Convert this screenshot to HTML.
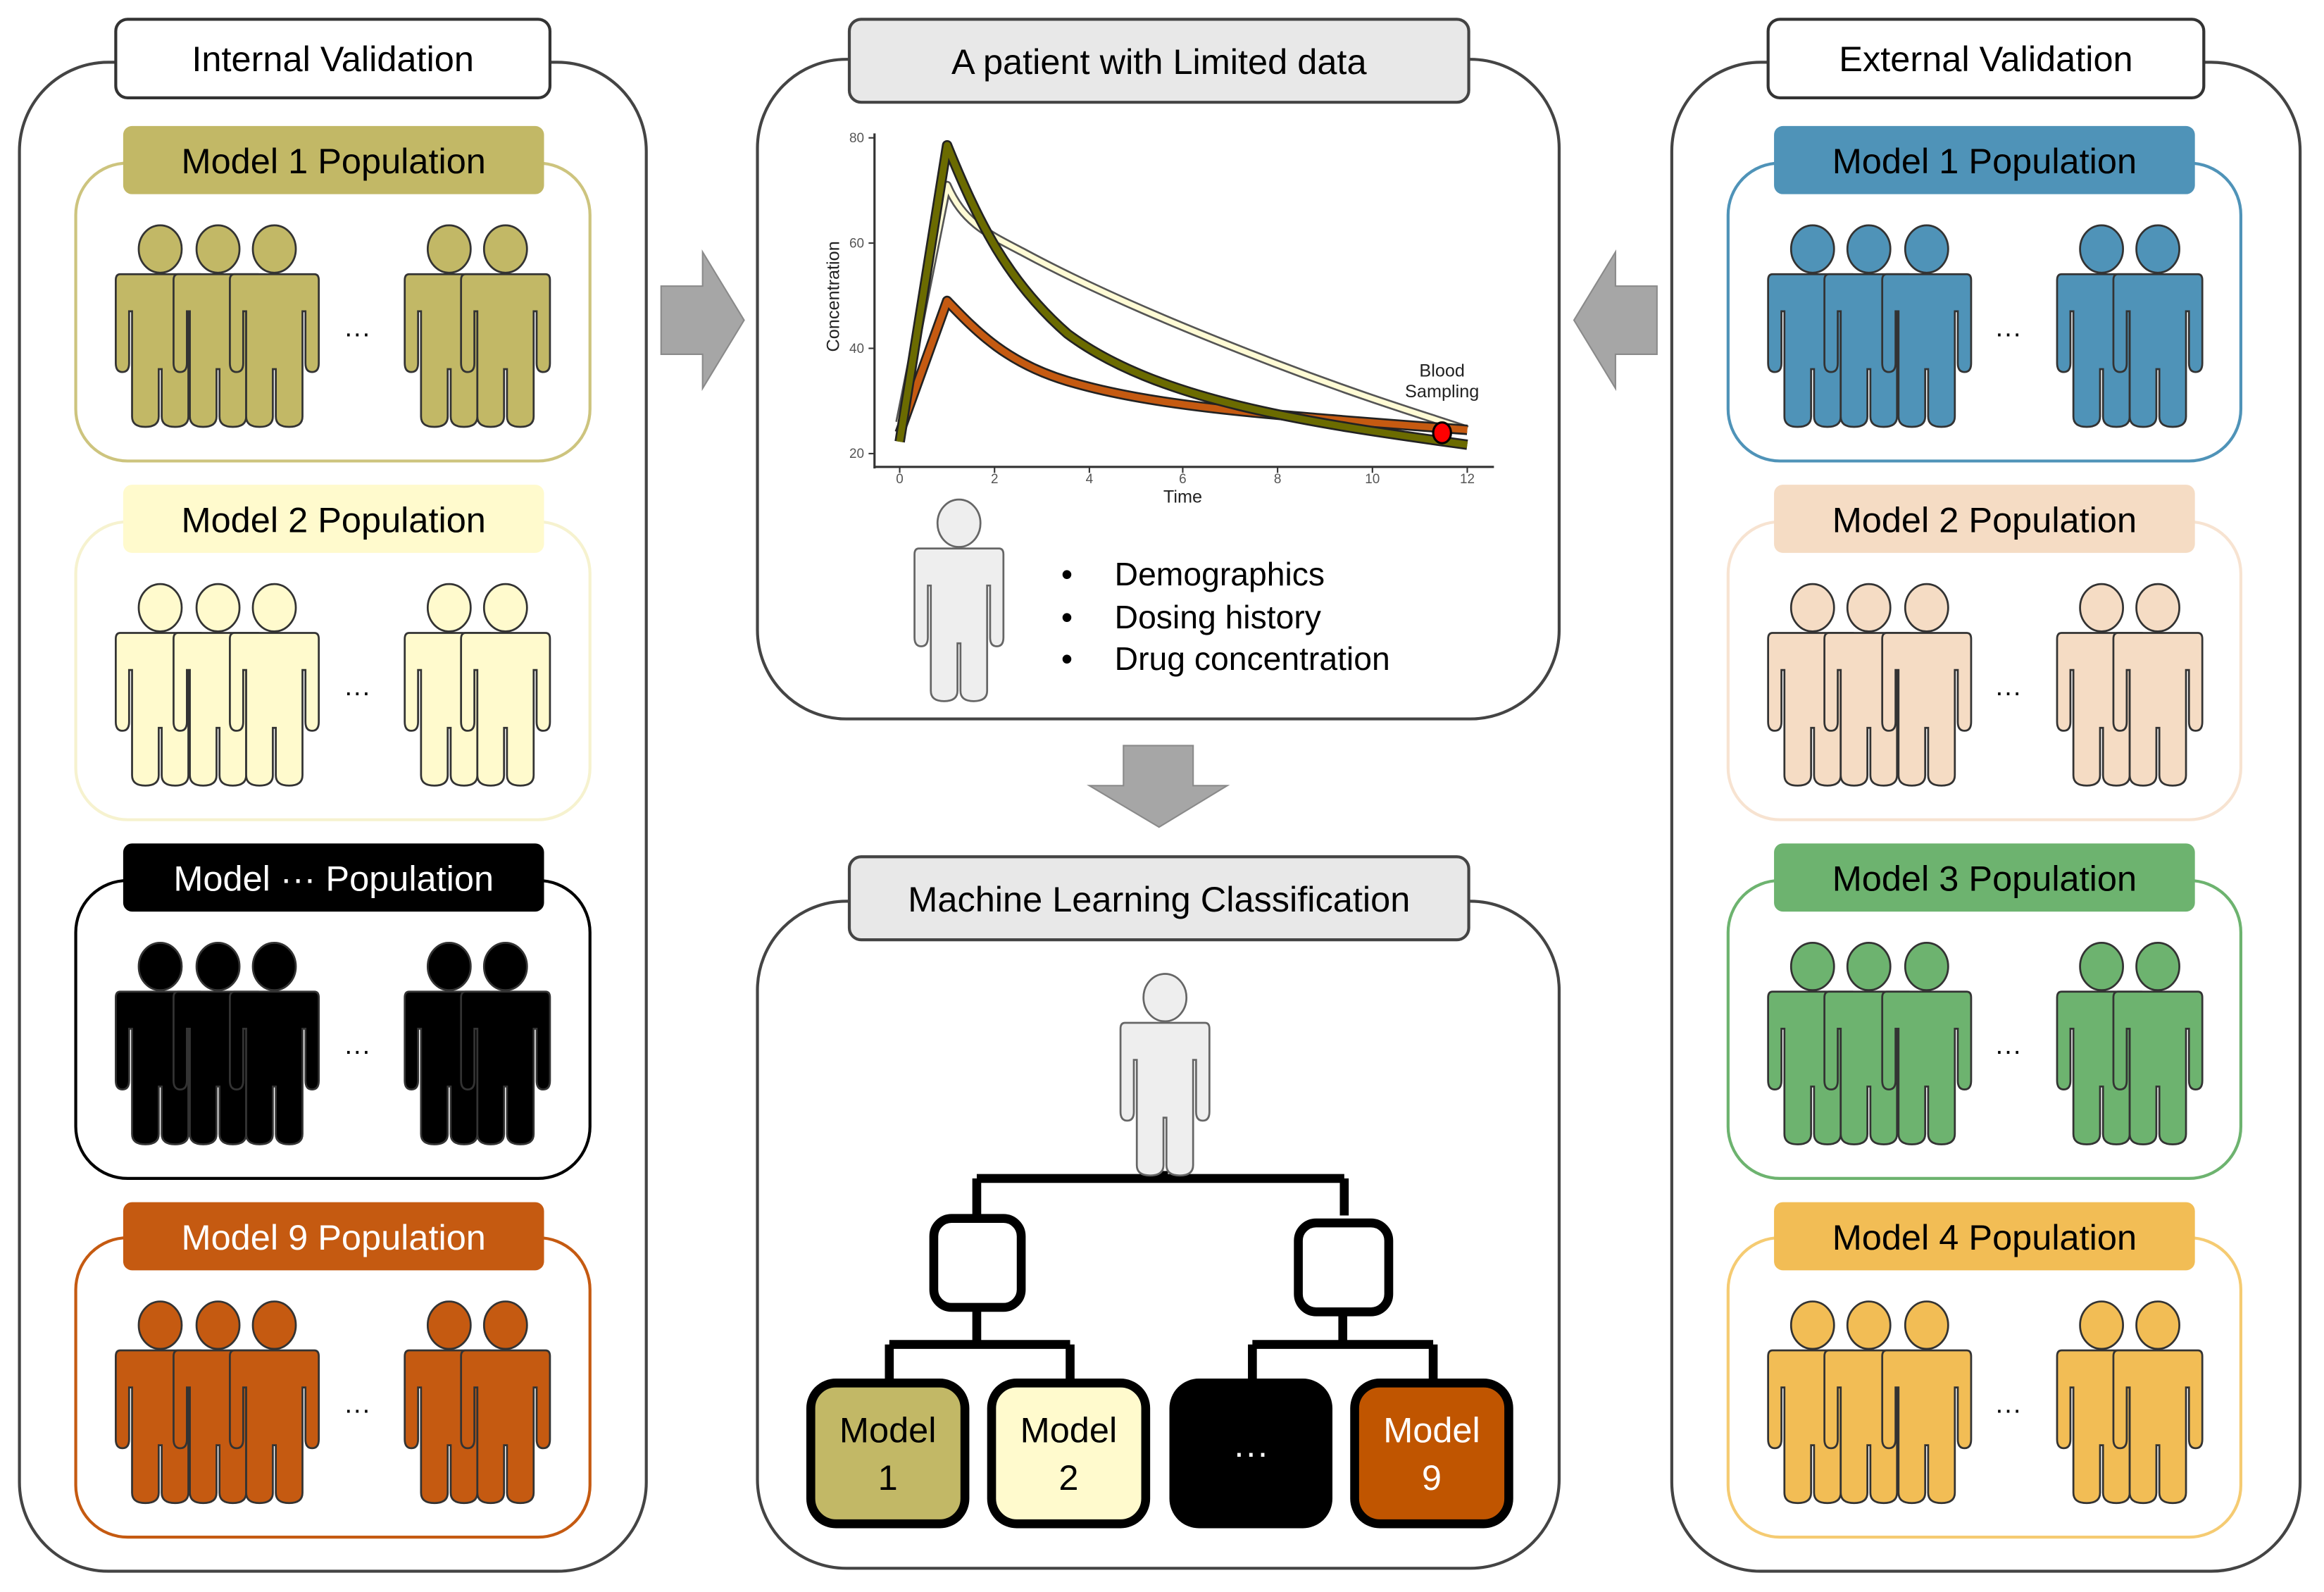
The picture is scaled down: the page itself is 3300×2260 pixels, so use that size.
<!DOCTYPE html>
<html><head><meta charset="utf-8"><style>
html,body{margin:0;padding:0;background:#fff}
svg{display:block}
text{font-family:"Liberation Sans",Arial,sans-serif}
</style></head><body>
<svg width="3300" height="2260" viewBox="0 0 1568 1074" xmlns="http://www.w3.org/2000/svg">
<defs>
<symbol id="p" viewBox="0 0 60 137" width="60" height="137" overflow="visible">
<path d="M3,33 H57 Q60,33 60,37 V93 Q60,99 55.5,99 Q51,99 51,93 V58 H49 V129 Q49,136 40,136 Q31,136 31,129 V97 H29 V129 Q29,136 20,136 Q11,136 11,129 V58 H9 V93 Q9,99 4.5,99 Q0,99 0,93 V37 Q0,33 3,33 Z"/>
<ellipse cx="30" cy="16" rx="14.5" ry="16"/>
</symbol>
</defs>

<!-- Outer panels -->
<rect x="13" y="42" width="423" height="1018" rx="60" fill="#fff" stroke="#444" stroke-width="2"/>
<rect x="1128" y="42" width="424" height="1018" rx="60" fill="#fff" stroke="#444" stroke-width="2"/>
<rect x="511" y="40" width="541" height="445" rx="60" fill="#fff" stroke="#444" stroke-width="2"/>
<rect x="511" y="608" width="541" height="450" rx="60" fill="#fff" stroke="#444" stroke-width="2"/>

<!-- Headers -->
<rect x="78" y="13" width="293" height="53" rx="8" fill="#fff" stroke="#333" stroke-width="2"/>
<text x="224.5" y="48" font-size="24" text-anchor="middle">Internal Validation</text>
<rect x="1193" y="13" width="294" height="53" rx="8" fill="#fff" stroke="#333" stroke-width="2"/>
<text x="1340" y="48" font-size="24" text-anchor="middle">External Validation</text>
<rect x="573" y="13" width="418" height="56" rx="8" fill="#e8e8e8" stroke="#444" stroke-width="2"/>
<text x="782" y="50" font-size="24" text-anchor="middle">A patient with Limited data</text>
<rect x="573" y="578" width="418" height="56" rx="8" fill="#e8e8e8" stroke="#444" stroke-width="2"/>
<text x="782" y="615" font-size="24" text-anchor="middle">Machine Learning Classification</text>

<!-- Left column -->
<g>
<rect x="51" y="110" width="347" height="201" rx="35" fill="#fff" stroke="#cdc47e" stroke-width="2"/>
<rect x="83" y="85" width="284" height="46" rx="6" fill="#c2b866"/>
<text x="225" y="117" font-size="24" text-anchor="middle">Model 1 Population</text>
<g fill="#c2b866" stroke="#333" stroke-width="1.3">
<use href="#p" x="78" y="152"/><use href="#p" x="117" y="152"/><use href="#p" x="155" y="152"/><use href="#p" x="273" y="152"/><use href="#p" x="311" y="152"/></g>
<text x="241" y="231" font-size="18" text-anchor="middle">···</text>

<rect x="51" y="352" width="347" height="201" rx="35" fill="#fff" stroke="#f6f2cf" stroke-width="2"/>
<rect x="83" y="327" width="284" height="46" rx="6" fill="#fffacd"/>
<text x="225" y="359" font-size="24" text-anchor="middle">Model 2 Population</text>
<g fill="#fffacd" stroke="#333" stroke-width="1.3">
<use href="#p" x="78" y="394"/><use href="#p" x="117" y="394"/><use href="#p" x="155" y="394"/><use href="#p" x="273" y="394"/><use href="#p" x="311" y="394"/></g>
<text x="241" y="473" font-size="18" text-anchor="middle">···</text>

<rect x="51" y="594" width="347" height="201" rx="35" fill="#fff" stroke="#000" stroke-width="2"/>
<rect x="83" y="569" width="284" height="46" rx="6" fill="#000"/>
<text x="225" y="601" font-size="24" text-anchor="middle" fill="#fff">Model ··· Population</text>
<g fill="#000" stroke="#333" stroke-width="1.3">
<use href="#p" x="78" y="636"/><use href="#p" x="117" y="636"/><use href="#p" x="155" y="636"/><use href="#p" x="273" y="636"/><use href="#p" x="311" y="636"/></g>
<text x="241" y="715" font-size="18" text-anchor="middle">···</text>

<rect x="51" y="835" width="347" height="202" rx="35" fill="#fff" stroke="#c55a11" stroke-width="2"/>
<rect x="83" y="811" width="284" height="46" rx="6" fill="#c55a11"/>
<text x="225" y="843" font-size="24" text-anchor="middle" fill="#fff">Model 9 Population</text>
<g fill="#c55a11" stroke="#333" stroke-width="1.3">
<use href="#p" x="78" y="878"/><use href="#p" x="117" y="878"/><use href="#p" x="155" y="878"/><use href="#p" x="273" y="878"/><use href="#p" x="311" y="878"/></g>
<text x="241" y="957" font-size="18" text-anchor="middle">···</text>
</g>

<!-- Right column -->
<g>
<rect x="1166" y="110" width="346" height="201" rx="35" fill="#fff" stroke="#4f93b8" stroke-width="2"/>
<rect x="1197" y="85" width="284" height="46" rx="6" fill="#4f93b8"/>
<text x="1339" y="117" font-size="24" text-anchor="middle">Model 1 Population</text>
<g fill="#4f93b8" stroke="#333" stroke-width="1.3">
<use href="#p" x="1193" y="152"/><use href="#p" x="1231" y="152"/><use href="#p" x="1270" y="152"/><use href="#p" x="1388" y="152"/><use href="#p" x="1426" y="152"/></g>
<text x="1355" y="231" font-size="18" text-anchor="middle">···</text>

<rect x="1166" y="352" width="346" height="201" rx="35" fill="#fff" stroke="#f7e3d1" stroke-width="2"/>
<rect x="1197" y="327" width="284" height="46" rx="6" fill="#f5dcc4"/>
<text x="1339" y="359" font-size="24" text-anchor="middle">Model 2 Population</text>
<g fill="#f5dcc4" stroke="#333" stroke-width="1.3">
<use href="#p" x="1193" y="394"/><use href="#p" x="1231" y="394"/><use href="#p" x="1270" y="394"/><use href="#p" x="1388" y="394"/><use href="#p" x="1426" y="394"/></g>
<text x="1355" y="473" font-size="18" text-anchor="middle">···</text>

<rect x="1166" y="594" width="346" height="201" rx="35" fill="#fff" stroke="#6db36f" stroke-width="2"/>
<rect x="1197" y="569" width="284" height="46" rx="6" fill="#6db36f"/>
<text x="1339" y="601" font-size="24" text-anchor="middle">Model 3 Population</text>
<g fill="#6db36f" stroke="#333" stroke-width="1.3">
<use href="#p" x="1193" y="636"/><use href="#p" x="1231" y="636"/><use href="#p" x="1270" y="636"/><use href="#p" x="1388" y="636"/><use href="#p" x="1426" y="636"/></g>
<text x="1355" y="715" font-size="18" text-anchor="middle">···</text>

<rect x="1166" y="835" width="346" height="202" rx="35" fill="#fff" stroke="#f5cb72" stroke-width="2"/>
<rect x="1197" y="811" width="284" height="46" rx="6" fill="#f2bd55"/>
<text x="1339" y="843" font-size="24" text-anchor="middle">Model 4 Population</text>
<g fill="#f2bd55" stroke="#333" stroke-width="1.3">
<use href="#p" x="1193" y="878"/><use href="#p" x="1231" y="878"/><use href="#p" x="1270" y="878"/><use href="#p" x="1388" y="878"/><use href="#p" x="1426" y="878"/></g>
<text x="1355" y="957" font-size="18" text-anchor="middle">···</text>
</g>

<!-- Arrows -->
<path d="M446,193 H474 V170 L502,216 L474,262 V239 H446 Z" fill="#a6a6a6" stroke="#8a8a8a" stroke-width="1"/>
<path d="M1118,193 H1090 V170 L1062,216 L1090,262 V239 H1118 Z" fill="#a6a6a6" stroke="#8a8a8a" stroke-width="1"/>
<path d="M758,503 H805 V530 H828 L782,558 L735,530 H758 Z" fill="#a6a6a6" stroke="#8a8a8a" stroke-width="1"/>

<!-- Chart -->
<g>
<line x1="590" y1="90" x2="590" y2="316" stroke="#333" stroke-width="1.5"/>
<line x1="590" y1="315" x2="1008" y2="315" stroke="#333" stroke-width="1.5"/>
<g stroke="#333" stroke-width="1">
<line x1="586" y1="93" x2="590" y2="93"/><line x1="586" y1="164" x2="590" y2="164"/><line x1="586" y1="235" x2="590" y2="235"/><line x1="586" y1="306" x2="590" y2="306"/>
<line x1="607" y1="315" x2="607" y2="319"/><line x1="671" y1="315" x2="671" y2="319"/><line x1="735" y1="315" x2="735" y2="319"/><line x1="798" y1="315" x2="798" y2="319"/><line x1="862" y1="315" x2="862" y2="319"/><line x1="926" y1="315" x2="926" y2="319"/><line x1="990" y1="315" x2="990" y2="319"/>
</g>
<g font-size="9" fill="#555" text-anchor="end">
<text x="583" y="96">80</text><text x="583" y="167">60</text><text x="583" y="238">40</text><text x="583" y="309">20</text></g>
<g font-size="9" fill="#555" text-anchor="middle">
<text x="607" y="326">0</text><text x="671" y="326">2</text><text x="735" y="326">4</text><text x="798" y="326">6</text><text x="862" y="326">8</text><text x="926" y="326">10</text><text x="990" y="326">12</text></g>
<text x="798" y="339" font-size="12" text-anchor="middle" fill="#222">Time</text>
<text x="0" y="0" font-size="12" text-anchor="middle" fill="#222" transform="translate(566,200) rotate(-90)">Concentration</text>
<text x="973" y="254" font-size="12" text-anchor="middle" fill="#222">Blood</text>
<text x="973" y="268" font-size="12" text-anchor="middle" fill="#222">Sampling</text>
<g fill="none" stroke-linejoin="round">
<path d="M607,285 L639,125 C650,150 665,157 690,170 C740,197 800,222 860,245 C920,268 960,280 990,290" stroke="#555" stroke-width="6"/>
<path d="M607,285 L639,125 C650,150 665,157 690,170 C740,197 800,222 860,245 C920,268 960,280 990,290" stroke="#fffbd5" stroke-width="3.5"/>
<path d="M607,292 L639,203 C660,225 680,245 720,257 C780,275 860,280 990,290" stroke="#222" stroke-width="7"/>
<path d="M607,292 L639,203 C660,225 680,245 720,257 C780,275 860,280 990,290" stroke="#c55a11" stroke-width="4.5"/>
<path d="M607,298 L639,98 C660,150 680,190 720,225 C780,270 880,285 990,300" stroke="#222" stroke-width="7"/>
<path d="M607,298 L639,98 C660,150 680,190 720,225 C780,270 880,285 990,300" stroke="#6b6b00" stroke-width="4.5"/>
</g>
<ellipse cx="973" cy="292" rx="6" ry="7" fill="#f00" stroke="#000" stroke-width="1.5"/>
</g>

<!-- Patient -->
<use href="#p" x="617" y="337" fill="#eeeeee" stroke="#666" stroke-width="1.3"/>
<g font-size="22">
<text x="716" y="395">•</text><text x="752" y="395">Demographics</text>
<text x="716" y="424">•</text><text x="752" y="424">Dosing history</text>
<text x="716" y="452">•</text><text x="752" y="452">Drug concentration</text>
</g>

<!-- Tree -->
<g fill="none" stroke="#000" stroke-width="6">
<path d="M785,790 V795 M659,795 H907 M659,795 V820 M907,795 V820"/>
<rect x="630" y="822" width="59" height="60" rx="12"/>
<rect x="876" y="825" width="61" height="60" rx="12"/>
<path d="M659,882 V907 M600,907 H722 M600,907 V932 M722,907 V932"/>
<path d="M906,885 V907 M845,907 H967 M845,907 V932 M967,907 V932"/>
</g>
<use href="#p" x="756" y="657" fill="#eeeeee" stroke="#666" stroke-width="1.3"/>
<rect x="547" y="933" width="104" height="95" rx="17" fill="#c2b866" stroke="#000" stroke-width="6"/>
<rect x="669" y="933" width="104" height="95" rx="17" fill="#fffacd" stroke="#000" stroke-width="6"/>
<rect x="792" y="933" width="104" height="95" rx="17" fill="#000" stroke="#000" stroke-width="6"/>
<rect x="914" y="933" width="104" height="95" rx="17" fill="#c05500" stroke="#000" stroke-width="6"/>
<g font-size="24" text-anchor="middle">
<text x="599" y="973">Model</text><text x="599" y="1005">1</text>
<text x="721" y="973">Model</text><text x="721" y="1005">2</text>
<text x="844" y="988" fill="#fff">···</text>
<text x="966" y="973" fill="#fff">Model</text><text x="966" y="1005" fill="#fff">9</text>
</g>
</svg>
</body></html>
